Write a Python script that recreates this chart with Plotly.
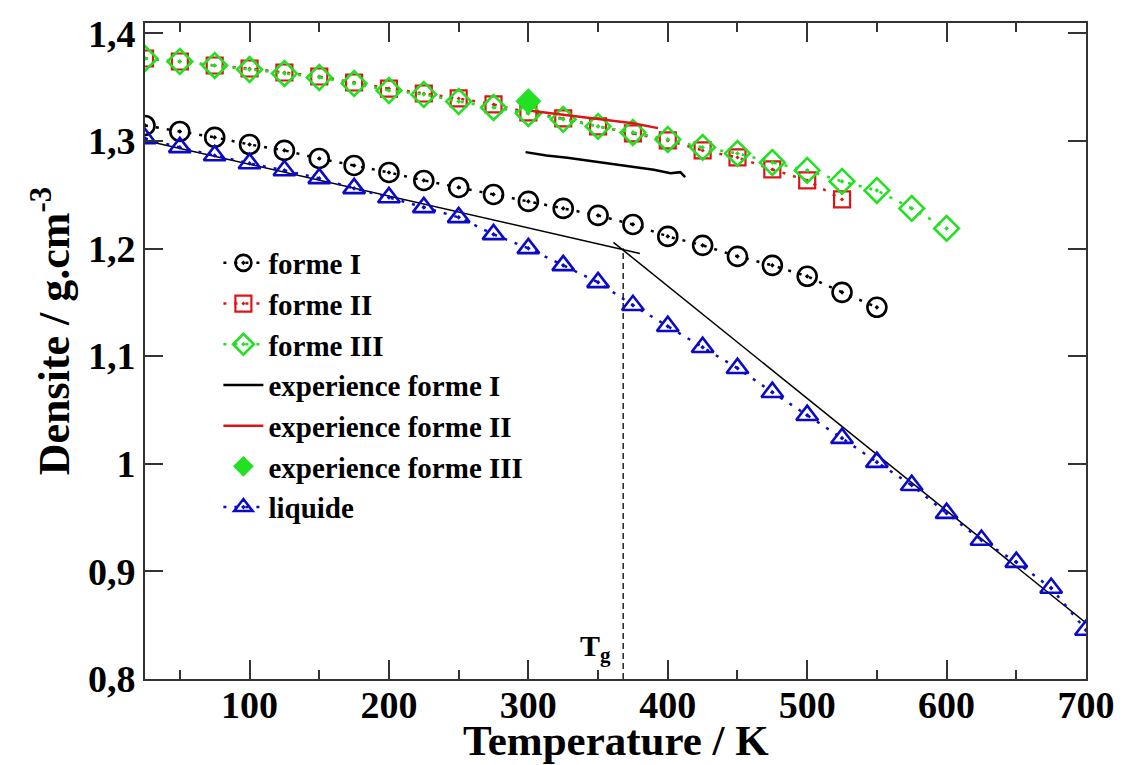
import plotly.graph_objects as go

# ---------------- data ----------------
T_forme1 = [25, 50, 75, 100, 125, 150, 175, 200, 225, 250, 275, 300, 325, 350, 375, 400, 425, 450, 475, 500, 525, 550]
rho_forme1 = [1.3144, 1.3088, 1.3033, 1.2967, 1.2912, 1.2837, 1.2772, 1.2707, 1.2633, 1.2568, 1.2503,
              1.2438, 1.2373, 1.2308, 1.2224, 1.2113, 1.2030, 1.1927, 1.1844, 1.1742, 1.1593, 1.1454]

T_forme2 = [25, 50, 75, 100, 125, 150, 175, 200, 225, 250, 275, 300, 325, 350, 375, 400, 425, 450, 475, 500, 525]
rho_forme2 = [1.3766, 1.3738, 1.3701, 1.3673, 1.3636, 1.3599, 1.3543, 1.3487, 1.3441, 1.3395, 1.3339,
              1.3265, 1.3209, 1.3135, 1.3070, 1.3005, 1.2912, 1.2847, 1.2735, 1.2633, 1.2457]

T_forme3 = [25, 50, 75, 100, 125, 150, 175, 200, 225, 250, 275, 300, 325, 350, 375, 400, 425, 450,
            475, 500, 525, 550, 575, 600]
rho_forme3 = [1.3766, 1.3738, 1.3701, 1.3664, 1.3627, 1.3590, 1.3534, 1.3469, 1.3432, 1.3367, 1.3311,
              1.3255, 1.3200, 1.3135, 1.3079, 1.3014, 1.2940, 1.2884, 1.2800, 1.2726, 1.2624, 1.2540,
              1.2373, 1.2187]

T_exp1 = [298, 313, 328, 342, 361, 375, 390, 402, 409, 412.5]
rho_exp1 = [1.2896, 1.2865, 1.2844, 1.2819, 1.2782, 1.2757, 1.2733, 1.2701, 1.2710, 1.2664]

T_exp2 = [300, 325, 350, 375, 393]
rho_exp2 = [1.3283, 1.3245, 1.3205, 1.3165, 1.3119]

T_exp3 = [300]
rho_exp3 = [1.337]

T_liquide = [25, 50, 75, 100, 125, 150, 175, 200, 225, 250, 275, 300, 325, 350, 375, 400, 425, 450,
             475, 500, 525, 550, 575, 600, 625, 650, 675, 700]
rho_liquide = [1.3023, 1.2940, 1.2865, 1.2791, 1.2726, 1.2652, 1.2559, 1.2475, 1.2383, 1.2290, 1.2132,
               1.2002, 1.1844, 1.1686, 1.1473, 1.1278, 1.1083, 1.0888, 1.0665, 1.0451, 1.0238, 1.0015,
               0.9801, 0.9541, 0.9291, 0.9086, 0.8845, 0.8455]

# linear fits (glass / liquid) and glass transition
T_fit_glass = [25, 380]
rho_fit_glass = [1.3005, 1.1955]
T_fit_liquid = [361, 700]
rho_fit_liquid = [1.2058, 0.852]
T_g = 368
rho_g_line = [0.8, 1.2002]
Tg_label_pos = (348, 0.829)

x_ticks = [100, 200, 300, 400, 500, 600, 700]
y_ticks = [0.8, 0.9, 1.0, 1.1, 1.2, 1.3, 1.4]

x_title = "Temperature / K"
y_title = "Densite / g.cm<sup>-3</sup>"

# ---------------- style ----------------
FONT = "Liberation Serif, 'Times New Roman', Times, 'DejaVu Serif', serif"
RED = "#dd1515"
GREEN = "#22e022"
BLUE = "#0a0ac8"
DOTS = "3px,8px"

fig = go.Figure()

fig.add_trace(go.Scatter(
    x=T_fit_glass, y=rho_fit_glass, mode="lines", showlegend=False,
    line=dict(color="black", width=1.5), hoverinfo="skip"))
fig.add_trace(go.Scatter(
    x=T_fit_liquid, y=rho_fit_liquid, mode="lines", showlegend=False,
    line=dict(color="black", width=1.5), hoverinfo="skip"))
fig.add_trace(go.Scatter(
    x=[T_g, T_g], y=rho_g_line, mode="lines", showlegend=False,
    line=dict(color="black", width=1.3, dash="6px,4px"), hoverinfo="skip"))

fig.add_trace(go.Scatter(
    x=T_forme1, y=rho_forme1, mode="lines+markers", name="forme I",
    line=dict(color="black", width=2.5, dash=DOTS),
    marker=dict(symbol="circle-open-dot", size=19, color="black", line=dict(width=2.6, color="black"))))
fig.add_trace(go.Scatter(
    x=T_forme2, y=rho_forme2, mode="lines+markers", name="forme II",
    line=dict(color=RED, width=2.5, dash=DOTS),
    marker=dict(symbol="square-open-dot", size=16, color=RED, line=dict(width=2.2, color=RED))))
fig.add_trace(go.Scatter(
    x=T_forme3, y=rho_forme3, mode="lines+markers", name="forme III",
    line=dict(color=GREEN, width=2.5, dash=DOTS),
    marker=dict(symbol="diamond-open-dot", size=19, color=GREEN, line=dict(width=2.6, color=GREEN))))
fig.add_trace(go.Scatter(
    x=T_exp1, y=rho_exp1, mode="lines", name="experience forme I",
    line=dict(color="black", width=2.5)))
fig.add_trace(go.Scatter(
    x=T_exp2, y=rho_exp2, mode="lines", name="experience forme II",
    line=dict(color=RED, width=2.5)))
fig.add_trace(go.Scatter(
    x=T_exp3, y=rho_exp3, mode="markers", name="experience forme III",
    marker=dict(symbol="diamond", size=20, color=GREEN)))
fig.add_trace(go.Scatter(
    x=T_liquide, y=rho_liquide, mode="lines+markers", name="liquide",
    line=dict(color=BLUE, width=2.5, dash=DOTS),
    marker=dict(symbol="triangle-up-open-dot", size=19, color=BLUE, line=dict(width=2.6, color=BLUE))))

fig.add_annotation(
    x=Tg_label_pos[0], y=Tg_label_pos[1], xref="x", yref="y",
    text="<b>T<sub>g</sub></b>", showarrow=False,
    font=dict(family=FONT, size=30, color="black"))

# axis titles
fig.add_annotation(
    x=0.5, y=-0.094, xref="paper", yref="paper", xanchor="center", yanchor="middle",
    text="<b>" + x_title + "</b>", showarrow=False,
    font=dict(family=FONT, size=43, color="black"))
fig.add_annotation(
    x=-0.1, y=0.53, xref="paper", yref="paper", xanchor="center", yanchor="middle",
    text="<b>" + y_title + "</b>", showarrow=False, textangle=-90,
    font=dict(family=FONT, size=44, color="black"))

TICKFONT = dict(family=FONT, size=38, color="black", weight="bold")
axis_common = dict(
    showgrid=False, zeroline=False, showline=True, linecolor="#333333", linewidth=2,
    mirror="ticks", ticks="inside", tickcolor="#333333", tickwidth=2,
    tickfont=TICKFONT,
)

fig.update_xaxes(
    range=[25, 700], tickvals=x_ticks, ticklen=19, ticklabelstandoff=-9,
    minor=dict(dtick=50, ticks="inside", ticklen=9, tickcolor="#333333", tickwidth=2, showgrid=False),
    **axis_common)
fig.update_yaxes(
    range=[0.8, 1.4096], tickvals=y_ticks, ticklen=18,
    **axis_common)

fig.update_layout(
    width=1124, height=765,
    margin=dict(l=145, r=38, t=23, b=86, autoexpand=False),
    paper_bgcolor="white", plot_bgcolor="white",
    separators=", ",
    showlegend=True,
    legend=dict(
        x=0.078, y=0.673, xanchor="left", yanchor="top",
        bgcolor="rgba(0,0,0,0)", borderwidth=0,
        font=dict(family=FONT, size=29, color="black", weight="bold"),
        itemwidth=40, tracegroupgap=0,
    ),
)

fig.write_html("out.html")
